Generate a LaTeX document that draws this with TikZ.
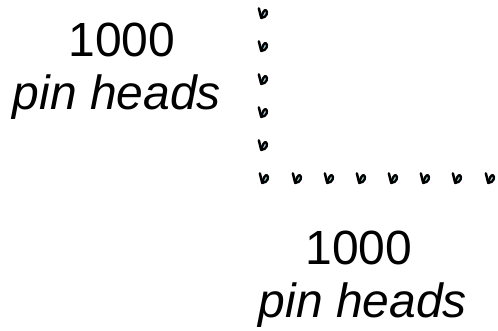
\documentclass[tikz,border=0pt]{standalone}
\usepackage{fontspec}
\setmainfont{Liberation Sans}
\definecolor{pinfill}{HTML}{9FD4E0}
\tikzset{
  lbl/.style={anchor=base, inner sep=0pt, font=\fontsize{48}{55}\selectfont},
  lblit/.style={lbl, font=\fontsize{48}{55}\selectfont\itshape},
  pinhead/.pic={
    \begin{scope}[scale=1.15]
    \draw[line width=2.3pt, line join=round, line cap=round, fill=pinfill]
      (-1.5,4.3) .. controls (-0.5,0) and (1,-3) .. (2.5,-2.5)
      .. controls (4.5,-1.5) and (3.5,4.3) .. (-1.5,4.3);
    \draw[line width=2.5pt, line cap=round] (-3.6,-4.0) -- (-1.5,4.3);
    \end{scope}
  }
}
\begin{document}
\begin{tikzpicture}[x=1pt,y=-1pt]
\useasboundingbox (0,0) rectangle (498,331);
\node[lbl]   (t1) at (122,57)  {1000};
\node[lblit] (t2) at (117,110) {pin heads};
\node[lbl]   (b1) at (359,264) {1000};
\node[lblit] (b2) at (363,317) {pin heads};
\foreach \y in {13,46,79,112,145} \pic at (263,\y) {pinhead};
\foreach \x in {264,297,329,361,393,425,457,490} \pic at (\x,178) {pinhead};
\end{tikzpicture}
\end{document}
